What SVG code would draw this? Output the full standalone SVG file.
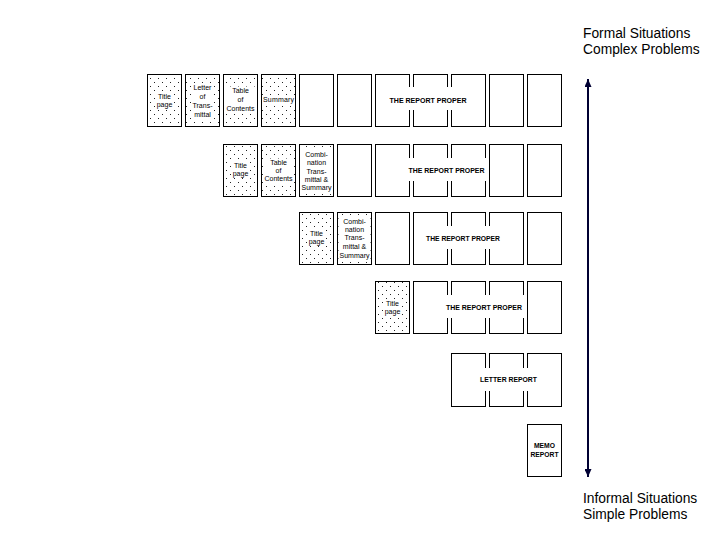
<svg xmlns="http://www.w3.org/2000/svg" width="720" height="540" viewBox="0 0 720 540">
<defs>
<pattern id="dots" width="8" height="8" patternUnits="userSpaceOnUse">
<rect width="8" height="8" fill="#fff"/>
<rect x="2" y="2" width="1" height="1" fill="#222"/>
<rect x="6" y="6" width="1" height="1" fill="#222"/>
</pattern>
<marker id="ah" markerWidth="8" markerHeight="7" refX="8" refY="3.5" orient="auto-start-reverse" markerUnits="userSpaceOnUse">
<path d="M0,0 L8,3.5 L0,7 z" fill="#000033"/>
</marker>
<style>
.pg{fill:#fff;stroke:#000;stroke-width:1}
.dt{fill:url(#dots);stroke:#000;stroke-width:1}
.s{font-family:"Liberation Sans",Arial,sans-serif;font-size:7px;fill:#000;text-anchor:middle}
.lbl{font-family:"Liberation Sans",Arial,sans-serif;font-size:7px;font-weight:bold;fill:#000;text-anchor:middle}
.knock{fill:#fff}
.big{font-family:"Liberation Sans",Arial,sans-serif;font-size:13.8px;fill:#000}
</style>
</defs>
<rect width="720" height="540" fill="#fff"/>

<!-- Row 1 -->
<g id="r1-title"><rect class="dt" x="147.5" y="74.5" width="34" height="52"/><rect class="knock" x="156" y="92" width="17" height="17"/><text class="s" x="164.5" y="98.5">Title</text><text class="s" x="164.5" y="107">page</text></g>
<g id="r1-letter"><rect class="dt" x="185.5" y="74.5" width="34" height="52"/><rect class="knock" x="191.5" y="83.5" width="22" height="35.5"/><text class="s" x="202.5" y="90">Letter</text><text class="s" x="202.5" y="99">of</text><text class="s" x="202.5" y="108">Trans-</text><text class="s" x="202.5" y="117">mittal</text></g>
<g id="r1-toc"><rect class="dt" x="223.5" y="74.5" width="34" height="52"/><rect class="knock" x="226" y="86.5" width="29" height="26.5"/><text class="s" x="240.5" y="93">Table</text><text class="s" x="240.5" y="102">of</text><text class="s" x="240.5" y="111">Contents</text></g>
<g id="r1-summary"><rect class="dt" x="261.5" y="74.5" width="34" height="52"/><rect class="knock" x="262" y="95.5" width="33" height="8.5"/><text class="s" x="278.5" y="102" textLength="31">Summary</text></g>
<g id="r1-pages">
<rect class="pg" x="299.5" y="74.5" width="34" height="52"/>
<rect class="pg" x="337.5" y="74.5" width="34" height="52"/>
<rect class="pg" x="375.5" y="74.5" width="34" height="52"/>
<rect class="pg" x="413.5" y="74.5" width="34" height="52"/>
<rect class="pg" x="451.5" y="74.5" width="34" height="52"/>
<rect class="pg" x="489.5" y="74.5" width="34" height="52"/>
<rect class="pg" x="527.5" y="74.5" width="34" height="52"/>
</g>
<g id="r1-label"><rect class="knock" x="385" y="87" width="86" height="23"/><text class="lbl" x="428" y="102.5" textLength="77" lengthAdjust="spacingAndGlyphs">THE REPORT PROPER</text></g>

<!-- Row 2 -->
<g id="r2-title"><rect class="dt" x="223.5" y="144.5" width="34" height="52"/><rect class="knock" x="232" y="161" width="17" height="17"/><text class="s" x="240.5" y="167.5">Title</text><text class="s" x="240.5" y="176">page</text></g>
<g id="r2-toc"><rect class="dt" x="261.5" y="144.5" width="34" height="52"/><rect class="knock" x="264" y="158.5" width="29" height="24.5"/><text class="s" x="278.5" y="165">Table</text><text class="s" x="278.5" y="172.5">of</text><text class="s" x="278.5" y="181">Contents</text></g>
<g id="r2-combo"><rect class="dt" x="299.5" y="144.5" width="34" height="52"/><rect class="knock" x="300.5" y="150" width="32" height="42"/><text class="s" x="316.5" y="156.5">Combi-</text><text class="s" x="316.5" y="165">nation</text><text class="s" x="316.5" y="173.5">Trans-</text><text class="s" x="316.5" y="181.5">mittal &amp;</text><text class="s" x="316.5" y="189.5">Summary</text></g>
<g id="r2-pages">
<rect class="pg" x="337.5" y="144.5" width="34" height="52"/>
<rect class="pg" x="375.5" y="144.5" width="34" height="52"/>
<rect class="pg" x="413.5" y="144.5" width="34" height="52"/>
<rect class="pg" x="451.5" y="144.5" width="34" height="52"/>
<rect class="pg" x="489.5" y="144.5" width="34" height="52"/>
<rect class="pg" x="527.5" y="144.5" width="34" height="52"/>
</g>
<g id="r2-label"><rect class="knock" x="405" y="158" width="83" height="23"/><text class="lbl" x="446.5" y="172.5" textLength="76" lengthAdjust="spacingAndGlyphs">THE REPORT PROPER</text></g>

<!-- Row 3 -->
<g id="r3-title"><rect class="dt" x="299.5" y="212.5" width="34" height="52"/><rect class="knock" x="308" y="229" width="17" height="17"/><text class="s" x="316.5" y="235.5">Title</text><text class="s" x="316.5" y="243.5">page</text></g>
<g id="r3-combo"><rect class="dt" x="337.5" y="212.5" width="34" height="52"/><rect class="knock" x="338.5" y="217" width="32" height="43"/><text class="s" x="354.5" y="223.5">Combi-</text><text class="s" x="354.5" y="231.5">nation</text><text class="s" x="354.5" y="240">Trans-</text><text class="s" x="354.5" y="248.5">mittal &amp;</text><text class="s" x="354.5" y="257.5">Summary</text></g>
<g id="r3-pages">
<rect class="pg" x="375.5" y="212.5" width="34" height="52"/>
<rect class="pg" x="413.5" y="212.5" width="34" height="52"/>
<rect class="pg" x="451.5" y="212.5" width="34" height="52"/>
<rect class="pg" x="489.5" y="212.5" width="34" height="52"/>
<rect class="pg" x="527.5" y="212.5" width="34" height="52"/>
</g>
<g id="r3-label"><rect class="knock" x="422" y="226" width="83" height="23"/><text class="lbl" x="463" y="240.5" textLength="74" lengthAdjust="spacingAndGlyphs">THE REPORT PROPER</text></g>

<!-- Row 4 -->
<g id="r4-title"><rect class="dt" x="375.5" y="281.5" width="34" height="52"/><rect class="knock" x="384" y="299" width="17" height="17"/><text class="s" x="392.5" y="305.5">Title</text><text class="s" x="392.5" y="314">page</text></g>
<g id="r4-pages">
<rect class="pg" x="413.5" y="281.5" width="34" height="52"/>
<rect class="pg" x="451.5" y="281.5" width="34" height="52"/>
<rect class="pg" x="489.5" y="281.5" width="34" height="52"/>
<rect class="pg" x="527.5" y="281.5" width="34" height="52"/>
</g>
<g id="r4-label"><rect class="knock" x="442" y="295" width="85" height="23"/><text class="lbl" x="484" y="309.5" textLength="76" lengthAdjust="spacingAndGlyphs">THE REPORT PROPER</text></g>

<!-- Row 5 -->
<g id="r5-pages">
<rect class="pg" x="451.5" y="353.5" width="34" height="53"/>
<rect class="pg" x="489.5" y="353.5" width="34" height="53"/>
<rect class="pg" x="527.5" y="353.5" width="34" height="53"/>
</g>
<g id="r5-label"><rect class="knock" x="477" y="368" width="63" height="23"/><text class="lbl" x="508.5" y="382" textLength="57" lengthAdjust="spacingAndGlyphs">LETTER REPORT</text></g>

<!-- Row 6 -->
<g id="r6-memo"><rect class="pg" x="527.5" y="424.5" width="34" height="52"/><text class="lbl" x="544.5" y="447.5" textLength="21" lengthAdjust="spacingAndGlyphs">MEMO</text><text class="lbl" x="544.5" y="456.5" textLength="28" lengthAdjust="spacingAndGlyphs">REPORT</text></g>

<!-- Scale labels -->
<g id="top-label"><text class="big" x="583" y="38">Formal Situations</text><text class="big" x="583" y="54">Complex Problems</text></g>
<g id="bottom-label"><text class="big" x="583" y="503">Informal Situations</text><text class="big" x="583" y="519">Simple Problems</text></g>

<g id="connectors">
<line x1="588" y1="79" x2="588" y2="477" stroke="#000033" stroke-width="2" marker-start="url(#ah)" marker-end="url(#ah)"/>
</g>
</svg>
